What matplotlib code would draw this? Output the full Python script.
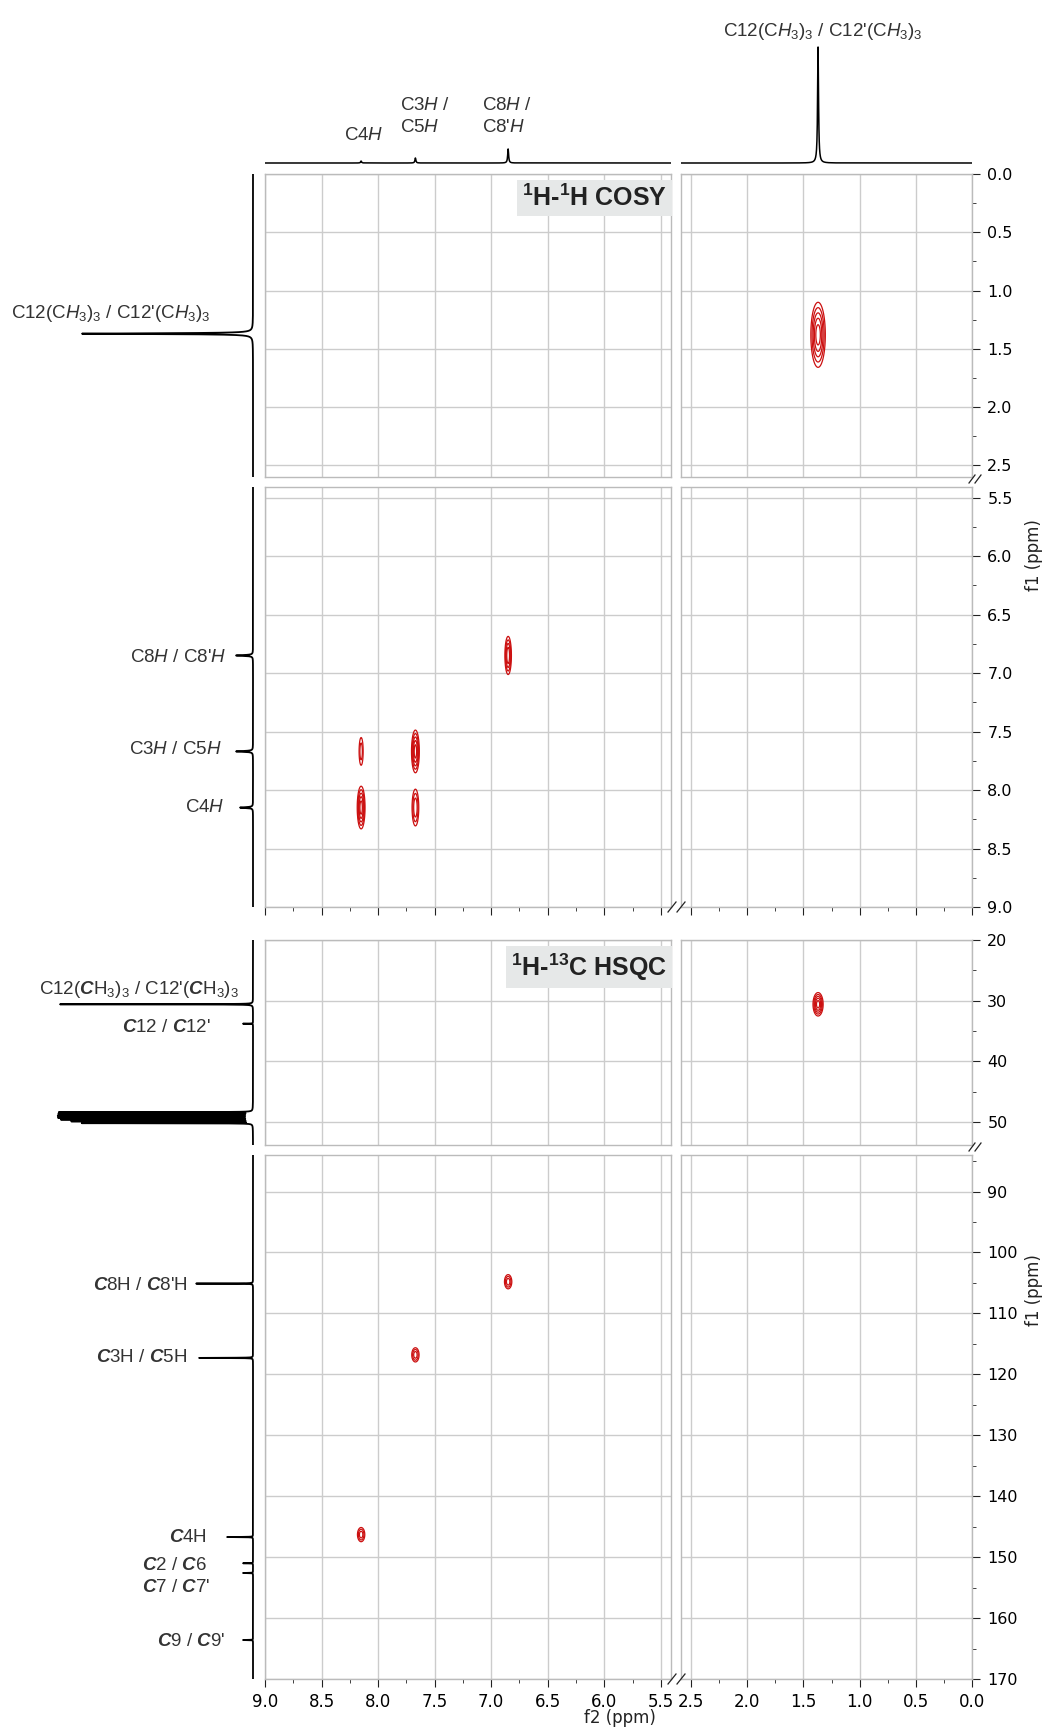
import numpy as np
import matplotlib.pyplot as plt
from matplotlib.ticker import MultipleLocator, FormatStrFormatter

plt.rcParams['font.family'] = ['Liberation Sans', 'DejaVu Sans']
plt.rcParams['mathtext.fontset'] = 'custom'
plt.rcParams['mathtext.rm'] = 'Liberation Sans'
plt.rcParams['mathtext.it'] = 'Liberation Sans:italic'
plt.rcParams['mathtext.bf'] = 'Liberation Sans:bold'
plt.rcParams['mathtext.bfit'] = 'Liberation Sans:bold:italic'

# ---- data (ppm) ----
# 1H projection peaks
h_shift = [8.15, 7.67, 6.85, 1.37]
h_top_height = [2, 5, 14, 116]      # top trace
h_left_height = [13, 17, 17, 171]   # left trace (COSY)

# COSY peaks (f2, f1, relative intensity)
cosy_f2 = [8.15, 7.67, 8.15, 7.67, 6.85, 1.37]
cosy_f1 = [7.67, 7.67, 8.15, 8.15, 6.85, 1.38]
cosy_int = [0.3, 1.0, 1.0, 0.55, 0.8, 1.0]

# HSQC peaks
hsqc_f2 = [1.37, 6.85, 7.67, 8.15]
hsqc_f1 = [30.6, 104.8, 116.8, 146.3]
hsqc_int = [1.0, 0.5, 0.5, 0.5]

# 13C trace peaks
c_shift = [30.6, 33.8, 48.4, 48.7, 49.0, 49.3, 49.6, 49.9, 50.2,
           105.1, 117.3, 146.7, 151.0, 152.6, 163.6]
c_height = [193, 10, 193, 193, 193, 193, 190, 180, 170,
            57, 54, 26, 10, 10, 10]

# ---- layout helpers (pixel boxes) ----
W, H = 1045, 1736
fig = plt.figure(figsize=(W / 100, H / 100), dpi=100)


def box(x0, y0, x1, y1):
    return fig.add_axes([x0 / W, 1 - y1 / H, (x1 - x0) / W, (y1 - y0) / H])


def fx(x):
    return x / W


def fy(y):
    return 1 - y / H


colL = (265, 671)
colR = (681, 972)
rows = {
    'top': (40, 170),
    'cu': (174, 477),
    'cl': (487, 907),
    'hu': (940, 1145),
    'hl': (1155, 1679),
}
xlimL = (9.0, 5.41)
xlimR = (2.59, 0.0)
ylims = {'cu': (2.6, 0.0), 'cl': (9.0, 5.41), 'hu': (53.8, 20), 'hl': (170, 84)}

grid_c = '#cccccc'
spine_c = '#bbbbbb'
red = '#cc1010'


def lorentz(x, pos, hgt, w):
    y = np.zeros_like(x)
    for p, h in zip(pos, hgt):
        y += h * w ** 2 / ((x - p) ** 2 + w ** 2)
    return y


def panel(row, col, xlim):
    ax = box(col[0], rows[row][0], col[1], rows[row][1])
    ax.set_xlim(xlim)
    ax.set_ylim(ylims[row])
    for s in ax.spines.values():
        s.set_color(spine_c)
        s.set_linewidth(1.0)
    ax.xaxis.set_major_locator(MultipleLocator(0.5))
    ax.xaxis.set_minor_locator(MultipleLocator(0.25))
    if row in ('cu', 'cl'):
        ax.yaxis.set_major_locator(MultipleLocator(0.5))
        ax.yaxis.set_minor_locator(MultipleLocator(0.25))
        ax.yaxis.set_major_formatter(FormatStrFormatter('%.1f'))
    else:
        ax.yaxis.set_major_locator(MultipleLocator(10))
        ax.yaxis.set_minor_locator(MultipleLocator(5))
        ax.yaxis.set_major_formatter(FormatStrFormatter('%d'))
    ax.xaxis.set_major_formatter(FormatStrFormatter('%.1f'))
    ax.grid(True, which='major', color=grid_c, lw=1.0)
    ax.set_axisbelow(True)
    show_x = row in ('cl', 'hl')
    ax.tick_params(axis='x', which='both', top=False, bottom=show_x,
                   labelbottom=(row == 'hl'), direction='out', color='#222222',
                   labelsize=12, pad=4)
    ax.tick_params(axis='x', which='major', length=6)
    ax.tick_params(axis='x', which='minor', length=3)
    right = col is colR
    ax.tick_params(axis='y', which='both', left=False, right=right,
                   labelleft=False, labelright=right, direction='out',
                   color='#222222', labelsize=11.5, pad=5)
    ax.tick_params(axis='y', which='major', length=6)
    ax.tick_params(axis='y', which='minor', length=3)
    for lab in ax.get_xticklabels() + ax.get_yticklabels():
        lab.set_family('DejaVu Sans')
    return ax


def contours(ax, f2, f1, amp, sx, sy, xlim, ylim):
    x = np.linspace(min(xlim), max(xlim), 900)
    y = np.linspace(min(ylim), max(ylim), 900)
    X, Y = np.meshgrid(x, y)
    Z = np.zeros_like(X)
    for a, b, c, s1, s2 in zip(f2, f1, amp, sx, sy):
        Z += c * np.exp(-((X - a) ** 2) / (2 * s1 ** 2) - ((Y - b) ** 2) / (2 * s2 ** 2))
    if Z.max() > 0.1:
        ax.contour(X, Y, Z, levels=[0.1, 0.2, 0.35, 0.55, 0.8], colors=red,
                   linewidths=0.9)


# ---- 2D panels ----
cosy_sx = [0.012, 0.016, 0.016, 0.016, 0.014, 0.03]
cosy_sy = [0.08, 0.085, 0.085, 0.085, 0.08, 0.13]
hsqc_sx = [0.021, 0.018, 0.018, 0.018]
hsqc_sy = [0.9, 0.65, 0.65, 0.65]

for row in ('cu', 'cl', 'hu', 'hl'):
    for col, xlim in ((colL, xlimL), (colR, xlimR)):
        ax = panel(row, col, xlim)
        if row in ('cu', 'cl'):
            contours(ax, cosy_f2, cosy_f1, cosy_int, cosy_sx, cosy_sy, xlim, ylims[row])
        else:
            contours(ax, hsqc_f2, hsqc_f1, hsqc_int, hsqc_sx, hsqc_sy, xlim, ylims[row])

# ---- top 1H trace ----
for col, xlim in ((colL, xlimL), (colR, xlimR)):
    ax = box(col[0], rows['top'][0], col[1], rows['top'][1])
    xs = np.linspace(min(xlim), max(xlim), 8000)
    ax.plot(xs, lorentz(xs, h_shift, h_top_height, 0.005), color='black', lw=1.1)
    ax.set_xlim(xlim)
    ax.set_ylim(-7, 123)
    ax.axis('off')

# ---- left traces ----
for row in ('cu', 'cl'):
    ax = box(75, rows[row][0], 260, rows[row][1])
    ys = np.linspace(min(ylims[row]), max(ylims[row]), 8000)
    ax.plot(lorentz(ys, h_shift, h_left_height, 0.004), ys, color='black', lw=1.3)
    ax.set_xlim(178, -7)
    ax.set_ylim(ylims[row])
    ax.axis('off')

for row in ('hu', 'hl'):
    ax = box(40, rows[row][0], 260, rows[row][1])
    ys = np.linspace(min(ylims[row]), max(ylims[row]), 20000)
    ax.plot(lorentz(ys, c_shift, c_height, 0.02), ys, color='black', lw=1.3)
    ax.set_xlim(213, -7)
    ax.set_ylim(ylims[row])
    ax.axis('off')

# ---- titles ----
box_kw = dict(boxstyle='square,pad=0.2', facecolor='#e6e8e8', edgecolor='none')
fig.text(fx(667), fy(198), r'$^\mathbf{1}$H-$^\mathbf{1}$H COSY', ha='right', va='center',
         fontsize=18, fontweight='bold', color='#222222', bbox=box_kw)
fig.text(fx(667), fy(967), r'$^\mathbf{1}$H-$^\mathbf{13}$C HSQC', ha='right', va='center',
         fontsize=18, fontweight='bold', color='#222222', bbox=box_kw)

# ---- annotations ----
fs = 13.5
tc = '#333333'
fig.text(fx(823), fy(31), r"C12(C$\mathit{H}_3$)$_3$ / C12'(C$\mathit{H}_3$)$_3$",
         ha='center', va='center', fontsize=fs, color=tc)
fig.text(fx(364), fy(135), r'C4$\mathit{H}$', ha='center', va='center', fontsize=fs, color=tc)
fig.text(fx(400), fy(106), r'C3$\mathit{H}$ /', ha='left', va='center', fontsize=fs, color=tc)
fig.text(fx(400), fy(127), r'C5$\mathit{H}$', ha='left', va='center', fontsize=fs, color=tc)
fig.text(fx(482), fy(106), r'C8$\mathit{H}$ /', ha='left', va='center', fontsize=fs, color=tc)
fig.text(fx(482), fy(127), r"C8'$\mathit{H}$", ha='left', va='center', fontsize=fs, color=tc)

fig.text(fx(11), fy(313), r"C12(C$\mathit{H}_3$)$_3$ / C12'(C$\mathit{H}_3$)$_3$",
         ha='left', va='center', fontsize=fs, color=tc)
fig.text(fx(226), fy(657), r"C8$\mathit{H}$ / C8'$\mathit{H}$", ha='right', va='center',
         fontsize=fs, color=tc)
fig.text(fx(222), fy(750), r'C3$\mathit{H}$ / C5$\mathit{H}$', ha='right', va='center',
         fontsize=fs, color=tc)
fig.text(fx(225), fy(807), r'C4$\mathit{H}$', ha='right', va='center', fontsize=fs, color=tc)

fig.text(fx(239), fy(990), r"C12($\mathbfit{C}$H$_3$)$_3$ / C12'($\mathbfit{C}$H$_3$)$_3$",
         ha='right', va='center', fontsize=fs, color=tc)
fig.text(fx(211), fy(1028), r"$\mathbfit{C}$12 / $\mathbfit{C}$12'", ha='right', va='center',
         fontsize=fs, color=tc)
fig.text(fx(188), fy(1285), r"$\mathbfit{C}$8H / $\mathbfit{C}$8'H", ha='right', va='center',
         fontsize=fs, color=tc)
fig.text(fx(187), fy(1358), r'$\mathbfit{C}$3H / $\mathbfit{C}$5H', ha='right', va='center',
         fontsize=fs, color=tc)
fig.text(fx(207), fy(1537), r'$\mathbfit{C}$4H', ha='right', va='center', fontsize=fs, color=tc)
fig.text(fx(207), fy(1565), r'$\mathbfit{C}$2 / $\mathbfit{C}$6', ha='right', va='center',
         fontsize=fs, color=tc)
fig.text(fx(210), fy(1587), r"$\mathbfit{C}$7 / $\mathbfit{C}$7'", ha='right', va='center',
         fontsize=fs, color=tc)
fig.text(fx(225), fy(1642), r"$\mathbfit{C}$9 / $\mathbfit{C}$9'", ha='right', va='center',
         fontsize=fs, color=tc)

# ---- axis titles ----
fig.text(fx(620), fy(1718), 'f2 (ppm)', ha='center', va='center', fontsize=12,
         family='DejaVu Sans', color='#222222')
fig.text(fx(1034), fy(555), 'f1 (ppm)', ha='center', va='center', fontsize=12,
         rotation=90, family='DejaVu Sans', color='#222222')
fig.text(fx(1034), fy(1290), 'f1 (ppm)', ha='center', va='center', fontsize=12,
         rotation=90, family='DejaVu Sans', color='#222222')

# ---- break marks ----
for yb in (907, 1679):
    for xb in (672, 681):
        fig.add_artist(plt.Line2D([fx(xb - 4), fx(xb + 4)], [fy(yb + 5), fy(yb - 5)],
                                  color='#222222', lw=0.9))
for yb in (482 - 4, 1150 - 4):
    for dx in (0, 6):
        fig.add_artist(plt.Line2D([fx(969 + dx), fx(975 + dx)], [fy(yb + 5), fy(yb - 3)],
                                  color='#222222', lw=0.9))

fig.savefig('out.png', dpi=100)
